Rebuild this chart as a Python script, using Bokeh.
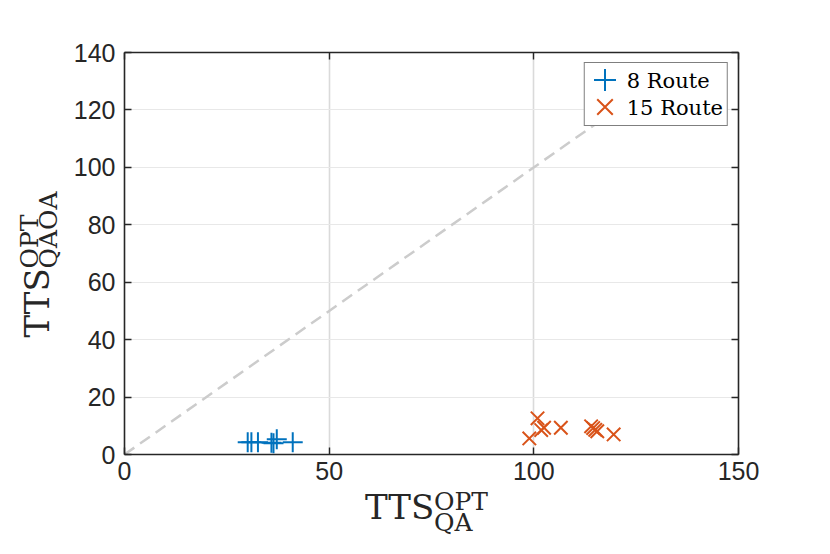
from bokeh.plotting import figure
from bokeh.models import (LinearAxis, Legend, LegendItem, FixedTicker, Range1d)
from bokeh.layouts import row, column
from bokeh.embed import file_html
from bokeh.resources import INLINE
from bokeh.core.properties import value
import math

# ---- data ----
route8_x = [30.1, 31.0, 32.6, 35.9, 36.4, 37.2, 41.1]
route8_y = [4.3, 4.3, 4.3, 4.1, 3.9, 5.3, 4.3]
route15_x = [98.9, 100.9, 101.8, 102.5, 106.6, 114.0, 114.5, 115.0, 115.5, 119.5]
route15_y = [5.6, 12.6, 8.5, 9.3, 9.3, 9.8, 9.2, 8.6, 8.1, 7.0]
diag_x = [0, 130]
diag_y = [0, 130]
x_ticks = [0, 50, 100, 150]
y_ticks = [0, 20, 40, 60, 80, 100, 120, 140]
series_labels = ["8 Route", "15 Route"]
title_main = "TTS"
x_sup, x_sub = "OPT", "QA"
y_sup, y_sub = "OPT", "QAOA"

BLUE = "#0072BD"
ORANGE = "#D95319"
AX = "#262626"
TICK_FONT = "Liberation Sans"
SERIF = "DejaVu Serif"

YLAB_W = 70
MAIN_W = 756
MAIN_H = 490
TOTAL_H = 550

p = figure(width=MAIN_W, height=MAIN_H, output_backend="svg",
           toolbar_location=None, title=None,
           x_range=Range1d(0, 150), y_range=Range1d(0, 140),
           min_border_left=123 - YLAB_W, min_border_right=MAIN_W - (123 - YLAB_W) - 615,
           min_border_top=52, min_border_bottom=MAIN_H - 52 - 402)
p.outline_line_color = None
p.background_fill_color = "white"
p.border_fill_color = "white"

def style_axis(ax, show_labels=True, standoff=8):
    ax.axis_line_color = AX
    ax.axis_line_width = 1.6
    ax.major_tick_line_color = AX
    ax.major_tick_line_width = 1.4
    ax.major_tick_in = 7
    ax.major_tick_out = 0
    ax.minor_tick_line_color = None
    ax.major_label_text_font = TICK_FONT
    ax.major_label_text_color = AX
    ax.major_label_standoff = standoff
    ax.major_label_text_font_size = "25px" if show_labels else "0px"
    if not show_labels:
        ax.major_label_text_alpha = 0

p.xaxis.ticker = FixedTicker(ticks=x_ticks)
p.yaxis.ticker = FixedTicker(ticks=y_ticks)
style_axis(p.xaxis[0], standoff=7)
style_axis(p.yaxis[0], standoff=9)

top_ax = LinearAxis(ticker=FixedTicker(ticks=x_ticks))
right_ax = LinearAxis(ticker=FixedTicker(ticks=y_ticks))
style_axis(top_ax, show_labels=False)
style_axis(right_ax, show_labels=False)
p.add_layout(top_ax, "above")
p.add_layout(right_ax, "right")

p.xgrid.ticker = FixedTicker(ticks=x_ticks)
p.ygrid.ticker = FixedTicker(ticks=y_ticks)
p.xgrid.grid_line_color = "#dadada"
p.xgrid.grid_line_width = 1.6
p.ygrid.grid_line_color = "#e8e8e8"
p.ygrid.grid_line_width = 1.2

p.line(diag_x, diag_y, line_color="#cccccc", line_width=2.5, line_dash="12 7")

r8 = p.scatter(route8_x, route8_y, marker="cross", size=20,
               line_color=BLUE, line_width=2)
r15 = p.scatter(route15_x, route15_y, marker="x", size=19,
                line_color=ORANGE, line_width=2)
# transparent twins: used only so the boxed legend lays out its text rows
g8 = p.scatter(route8_x, route8_y, marker="cross", size=20, line_alpha=0,
               fill_alpha=0)
g15 = p.scatter(route15_x, route15_y, marker="x", size=19, line_alpha=0,
                fill_alpha=0)

legend = Legend(items=[LegendItem(label=series_labels[0], renderers=[g8]),
                       LegendItem(label=series_labels[1], renderers=[g15])],
                location="top_right", margin=10, padding=4, spacing=0,
                glyph_width=27, glyph_height=27, label_standoff=11,
                label_height=27,
                label_text_font=SERIF, label_text_font_size="21px",
                label_text_color="black",
                border_line_color="black", border_line_width=1.5,
                background_fill_color="white", background_fill_alpha=1)
p.add_layout(legend, "center")

# big legend markers (Bokeh draws legend markers at 0.4 of the glyph box)
def marker_legend(r, loc):
    lg = Legend(items=[LegendItem(label=" ", renderers=[r])],
                location=loc, margin=0, padding=0, spacing=0,
                glyph_width=55, glyph_height=55, label_height=55,
                label_width=0, label_standoff=0,
                label_text_alpha=0, label_text_font_size="4px",
                border_line_alpha=0, background_fill_alpha=0)
    p.add_layout(lg, "center")

marker_legend(r8, (452.5, 347.5))
marker_legend(r15, (452.5, 320.5))

# ---- axis titles drawn as text in small blank figures (pixel ranges) ----
def blank(w, h):
    f = figure(width=w, height=h, output_backend="svg", toolbar_location=None,
               title=None, x_range=Range1d(0, w), y_range=Range1d(0, h),
               x_axis_location=None, y_axis_location=None,
               min_border=0)
    f.grid.visible = False
    f.outline_line_color = None
    f.background_fill_color = "white"
    f.border_fill_color = "white"
    return f

def txt(f, x, y, s, size, angle=0.0, dx=0):
    f.text(x=[x], y=[y], text=[s], angle=angle, x_offset=dx,
           text_font=value(SERIF), text_font_size=value(size),
           text_color=AX, text_align="left", text_baseline="alphabetic")

BIG, SMALL = "34px", "25px"
GAP = 69  # advance of the big "TTS"

ylab = blank(YLAB_W, TOTAL_H)
a = math.pi / 2
txt(ylab, 36, TOTAL_H - 337, title_main, BIG, a)
txt(ylab, 29, TOTAL_H - 337 + GAP, y_sup, SMALL, a)
txt(ylab, 48, TOTAL_H - 337 + GAP, y_sub, SMALL, a)

XL_H = TOTAL_H - MAIN_H
xlab = blank(MAIN_W, XL_H)
x0 = 366 - YLAB_W
txt(xlab, x0, TOTAL_H - 506, title_main, BIG)
txt(xlab, x0, TOTAL_H - 501, x_sup, SMALL, dx=GAP)
txt(xlab, x0, TOTAL_H - 522, x_sub, SMALL, dx=GAP)

layout = row(ylab, column(p, xlab, spacing=0), spacing=0)

open("out.html", "w").write(file_html(layout, INLINE))
